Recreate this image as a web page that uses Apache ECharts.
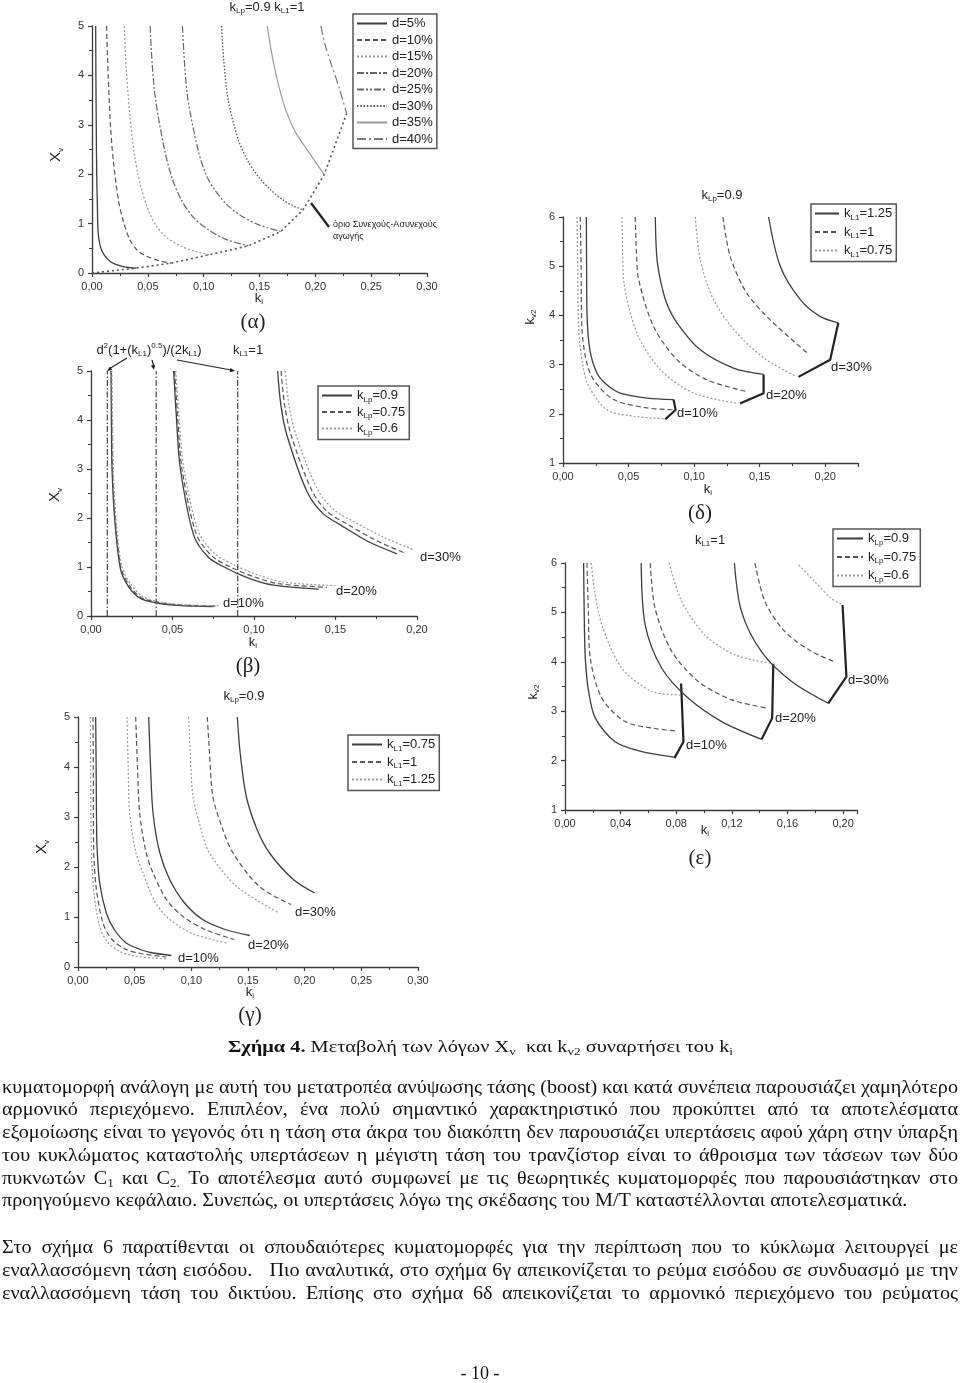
<!DOCTYPE html>
<html><head><meta charset="utf-8">
<script src="https://cdn.jsdelivr.net/npm/echarts@6/dist/echarts.min.js"></script>
<style>
html,body{margin:0;padding:0;background:#fff;}
body{width:960px;height:1383px;overflow:hidden;position:relative;}
#chart{position:absolute;left:0;top:0;width:960px;height:1383px;}
.ln{position:absolute;white-space:pre;font-family:'Liberation Serif','Times New Roman',serif;font-size:19px;line-height:22px;color:#111;transform-origin:0 50%;}
.ln sub{font-size:0.65em;vertical-align:-0.25em;line-height:0;}
</style></head>
<body><div id="chart"></div><div id="text"></div>
<script>
// ---------------- DATA ----------------
// (α) k_Lp=0.9, k_L1=1 : X_v vs k_i
const a_names = ['d=5%','d=10%','d=15%','d=20%','d=25%','d=30%','d=35%','d=40%'];
const a_d5  = [[0.0033,5],[0.0035,4],[0.0038,3],[0.0042,2],[0.0048,1.4],[0.0056,0.8],[0.0085,0.47],[0.016,0.24],[0.028,0.13],[0.040,0.1]];
const a_d10 = [[0.013,5],[0.0145,4],[0.0165,3],[0.019,2.3],[0.0236,1.48],[0.028,1.05],[0.034,0.67],[0.041,0.45],[0.049,0.34],[0.06,0.25],[0.071,0.2]];
const a_d15 = [[0.029,5],[0.0305,4.2],[0.034,3.17],[0.038,2.4],[0.043,1.82],[0.05,1.3],[0.058,0.94],[0.068,0.7],[0.080,0.54],[0.092,0.44],[0.105,0.37]];
const a_d20 = [[0.052,5],[0.054,4.2],[0.057,3.5],[0.065,2.49],[0.072,1.9],[0.080,1.48],[0.091,1.12],[0.104,0.88],[0.12,0.68],[0.140,0.55]];
const a_d25 = [[0.081,5],[0.083,4.2],[0.086,3.5],[0.095,2.49],[0.102,2.0],[0.110,1.68],[0.121,1.38],[0.134,1.15],[0.150,0.97],[0.169,0.84]];
const a_d30 = [[0.116,5],[0.118,4.3],[0.122,3.5],[0.131,2.7],[0.14,2.25],[0.149,1.95],[0.160,1.68],[0.171,1.48],[0.180,1.36],[0.189,1.28]];
const a_d35 = [[0.157,5],[0.1605,4.5],[0.1645,4.05],[0.170,3.55],[0.176,3.15],[0.183,2.82],[0.191,2.55],[0.200,2.25],[0.208,1.99]];
const a_d40 = [[0.205,5],[0.209,4.6],[0.213,4.31],[0.218,3.98],[0.222,3.7],[0.228,3.23]];
const a_boundary = [[0,0],[0.040,0.1],[0.071,0.2],[0.105,0.37],[0.140,0.55],[0.169,0.84],[0.189,1.28],[0.208,1.99],[0.228,3.23]];

// (δ) k_Lp=0.9 : k_v2 vs k_i, k_L1 = 1.25 / 1 / 0.75
const dl_names = ['1.25','1','0.75'];
const d_d10_s = [[0.0178,6],[0.018,5],[0.0183,4.05],[0.0205,3.3],[0.0259,2.83],[0.033,2.6],[0.0437,2.42],[0.064,2.32],[0.0843,2.29]];
const d_d10_d = [[0.0132,6],[0.0138,5],[0.0145,3.71],[0.018,3.05],[0.0234,2.69],[0.0386,2.29],[0.064,2.12],[0.0859,2.08]];
const d_d10_o = [[0.0107,6],[0.0112,5],[0.012,3.71],[0.015,3.0],[0.0196,2.56],[0.0335,2.08],[0.054,1.95],[0.078,1.9]];
const d_d10_b = [[0.0843,2.29],[0.0859,2.08],[0.078,1.89]];
const d_d20_s = [[0.0704,6],[0.0715,5.2],[0.0742,4.73],[0.079,4.25],[0.0869,3.85],[0.1047,3.30],[0.130,2.93],[0.153,2.80]];
const d_d20_d = [[0.0551,6],[0.056,5.3],[0.0577,4.73],[0.069,3.78],[0.0869,3.10],[0.1098,2.69],[0.139,2.46]];
const d_d20_o = [[0.045,6],[0.0455,5.3],[0.0462,4.73],[0.0564,3.64],[0.0742,2.90],[0.0996,2.42],[0.134,2.21]];
const d_d20_b = [[0.153,2.80],[0.153,2.42],[0.135,2.21]];
const d_d30_s = [[0.1568,6],[0.1657,5.0],[0.181,4.32],[0.196,3.98],[0.210,3.85]];
const d_d30_d = [[0.122,6],[0.1275,5.2],[0.140,4.46],[0.158,3.91],[0.187,3.22]];
const d_d30_o = [[0.1009,6],[0.1047,5.13],[0.1148,4.32],[0.1326,3.64],[0.155,3.10],[0.178,2.76]];
const d_d30_b = [[0.210,3.85],[0.2038,3.10],[0.1796,2.75]];

// (β) X_v vs k_i, k_Lp = 0.9 / 0.75 / 0.6
const bl_names = ['0.9','0.75','0.6'];
const b_d10_s = [[0.0123,5],[0.0125,4],[0.0129,3],[0.0145,2],[0.018,0.97],[0.023,0.6],[0.0303,0.36],[0.04,0.27],[0.0507,0.22],[0.064,0.2],[0.075,0.19]];
const b_d10_d = [[0.0125,5],[0.0128,4],[0.0132,3],[0.0148,2],[0.0185,0.97],[0.024,0.6],[0.031,0.37],[0.041,0.28],[0.052,0.23],[0.065,0.21],[0.077,0.2]];
const b_d10_o = [[0.0128,5],[0.0132,4],[0.0137,3],[0.0153,2],[0.019,1.0],[0.025,0.62],[0.032,0.39],[0.042,0.29],[0.053,0.24],[0.066,0.22],[0.079,0.21]];
const b_d20_s = [[0.0507,5],[0.0525,4],[0.0548,3.01],[0.063,1.65],[0.072,1.2],[0.0834,0.97],[0.097,0.77],[0.112,0.63],[0.1397,0.55]];
const b_d20_d = [[0.0513,5],[0.0533,4],[0.0558,3.01],[0.0645,1.68],[0.074,1.23],[0.0855,1.0],[0.1,0.8],[0.115,0.66],[0.1448,0.585]];
const b_d20_o = [[0.052,5],[0.0542,4],[0.057,3.01],[0.066,1.72],[0.076,1.27],[0.088,1.04],[0.103,0.83],[0.118,0.69],[0.150,0.62]];
const b_d30_s = [[0.1145,5],[0.1165,4.3],[0.1202,3.69],[0.1325,2.54],[0.142,2.1],[0.153,1.86],[0.17,1.52],[0.1877,1.27]];
const b_d30_d = [[0.1166,5],[0.1188,4.3],[0.1228,3.69],[0.1355,2.56],[0.145,2.13],[0.157,1.88],[0.175,1.54],[0.193,1.28]];
const b_d30_o = [[0.1192,5],[0.1215,4.3],[0.1258,3.69],[0.139,2.58],[0.149,2.17],[0.161,1.93],[0.18,1.6],[0.198,1.35]];
const b_vlines = [0.01, 0.04, 0.09];

// (ε) k_L1=1 : k_v2 vs k_i, k_Lp = 0.9 / 0.75 / 0.6
const el_names = ['0.9','0.75','0.6'];
const e_d10_s = [[0.0134,6],[0.0138,5],[0.0146,4.07],[0.017,3.4],[0.0218,2.86],[0.0361,2.38],[0.0553,2.18],[0.0787,2.07]];
const e_d10_d = [[0.0158,6],[0.0168,5],[0.0182,4.07],[0.0266,3.26],[0.0433,2.79],[0.0648,2.65],[0.0804,2.6]];
const e_d10_o = [[0.0189,6],[0.0215,5.4],[0.0266,4.74],[0.0409,3.87],[0.0625,3.40],[0.0828,3.33]];
const e_d10_b = [[0.0787,2.05],[0.0852,2.38],[0.0835,3.56]];
const e_d20_s = [[0.0548,6],[0.0577,4.74],[0.0696,3.87],[0.0888,3.26],[0.1127,2.79],[0.1414,2.43]];
const e_d20_d = [[0.0613,6],[0.0648,5.08],[0.0768,4.21],[0.096,3.60],[0.12,3.23],[0.146,3.06]];
const e_d20_o = [[0.0749,6],[0.084,5.22],[0.1007,4.54],[0.1223,4.14],[0.1474,3.97]];
const e_d20_b = [[0.1414,2.43],[0.149,2.86],[0.1498,3.96]];
const e_d30_s = [[0.1218,6],[0.127,5.01],[0.1414,4.20],[0.163,3.60],[0.1893,3.16]];
const e_d30_d = [[0.1366,6],[0.1438,5.22],[0.1582,4.61],[0.1773,4.21],[0.194,4.0]];
const e_d30_o = [[0.1682,5.96],[0.1797,5.62],[0.1917,5.28],[0.20,5.15]];
const e_d30_b = [[0.1893,3.16],[0.2024,3.70],[0.1996,5.15]];

// (γ) k_Lp=0.9 : X_v vs k_i, k_L1 = 0.75 / 1 / 1.25
const gl_names = ['0.75','1','1.25'];
const g_d10_s = [[0.0156,5],[0.016,4],[0.0163,3],[0.0168,2.41],[0.019,1.7],[0.025,1.08],[0.032,0.75],[0.0426,0.48],[0.055,0.35],[0.066,0.28],[0.0824,0.23]];
const g_d10_d = [[0.0132,5],[0.0135,4],[0.0138,2.41],[0.016,1.6],[0.022,0.88],[0.03,0.55],[0.0426,0.35],[0.055,0.27],[0.078,0.2]];
const g_d10_o = [[0.0109,5],[0.0112,4],[0.0118,2.41],[0.014,1.5],[0.0191,0.81],[0.026,0.5],[0.0368,0.31],[0.05,0.22],[0.066,0.18],[0.0794,0.16]];
const g_d20_s = [[0.0624,5],[0.064,4],[0.0662,3.08],[0.072,2.3],[0.0809,1.75],[0.094,1.28],[0.110,0.95],[0.13,0.75],[0.1515,0.63]];
const g_d20_d = [[0.0509,5],[0.0525,4],[0.0544,3.08],[0.06,2.3],[0.0662,1.88],[0.078,1.35],[0.0926,1.01],[0.113,0.74],[0.138,0.55]];
const g_d20_o = [[0.0432,5],[0.0443,4],[0.0456,3.08],[0.051,2.3],[0.0574,1.88],[0.068,1.3],[0.0809,0.95],[0.102,0.66],[0.131,0.48]];
const g_d30_s = [[0.1406,5],[0.143,4.3],[0.1485,3.41],[0.158,2.75],[0.169,2.28],[0.190,1.75],[0.2088,1.48]];
const g_d30_d = [[0.1141,5],[0.116,4.3],[0.119,3.41],[0.127,2.8],[0.1368,2.28],[0.160,1.61],[0.188,1.25]];
const g_d30_o = [[0.0976,5],[0.099,4.3],[0.1015,3.41],[0.108,2.8],[0.116,2.28],[0.140,1.61],[0.1774,1.08]];

// Axis tick settings
const xMax = [0.30, 0.225, 0.20, 0.21, 0.30];
const xInt = [0.05, 0.05, 0.05, 0.04, 0.05];
const yMin = [0, 1, 0, 1, 0];
const yMax = [5, 6, 5, 6, 5];

// Body text
const textLines = [
 '<b>Σχήμα 4.</b> Μεταβολή των λόγων X<sub>v</sub>  και k<sub>v2</sub> συναρτήσει του k<sub>i</sub>',
 'κυματομορφή ανάλογη με αυτή του μετατροπέα ανύψωσης τάσης (boost) και κατά συνέπεια παρουσιάζει χαμηλότερο',
 'αρμονικό περιεχόμενο. Επιπλέον, ένα πολύ σημαντικό χαρακτηριστικό που προκύπτει από τα αποτελέσματα',
 'εξομοίωσης είναι το γεγονός ότι η τάση στα άκρα του διακόπτη δεν παρουσιάζει υπερτάσεις αφού χάρη στην ύπαρξη',
 'του κυκλώματος καταστολής υπερτάσεων η μέγιστη τάση του τρανζίστορ είναι το άθροισμα των τάσεων των δύο',
 'πυκνωτών C<sub>1</sub> και C<sub>2.</sub> Το αποτέλεσμα αυτό συμφωνεί με τις θεωρητικές κυματομορφές που παρουσιάστηκαν στο',
 'προηγούμενο κεφάλαιο. Συνεπώς, οι υπερτάσεις λόγω της σκέδασης του Μ/Τ καταστέλλονται αποτελεσματικά.',
 'Στο σχήμα 6 παρατίθενται οι σπουδαιότερες κυματομορφές για την περίπτωση που το κύκλωμα λειτουργεί με',
 'εναλλασσόμενη τάση εισόδου.   Πιο αναλυτικά, στο σχήμα 6γ απεικονίζεται το ρεύμα εισόδου σε συνδυασμό με την',
 'εναλλασσόμενη τάση του δικτύου. Επίσης στο σχήμα 6δ απεικονίζεται το αρμονικό περιεχόμενο του ρεύματος',
 '- 10 -'
];
</script>
<script>
const FONT = "'Liberation Sans', Arial, sans-serif";
const SERIF = "'Liberation Serif','Times New Roman',serif";

// text layout: 'fit' = scale to width, 'just' = justified full line, 'last' = paragraph end line, 'c' = centered
const textLayout = [
 {y:1047,x:228,w:505,fs:17,m:'fit'},
 {y:1087,x:2,w:956,m:'just'},{y:1109,x:2,w:956,m:'just'},{y:1132,x:2,w:956,m:'just'},{y:1155,x:2,w:956,m:'just'},
 {y:1178,x:2,w:956,m:'just'},{y:1200,x:2,m:'last'},
 {y:1247,x:2,w:956,m:'just'},{y:1270,x:2,w:956,m:'just'},{y:1293,x:2,w:956,m:'just'},
 {y:1373,cx:480,fs:18,m:'c'}
];
function layoutText(){
  const host = document.getElementById('text'); host.innerHTML='';
  const divs = textLines.map((html,i)=>{
    const L = textLayout[i];
    const d = document.createElement('div');
    d.className='ln'; d.innerHTML=html;
    d.style.fontSize=(L.fs||19)+'px';
    d.style.top=(L.y-11)+'px';
    d.style.left='0px';
    host.appendChild(d);
    return d;
  });
  const nat = divs.map(d=>d.getBoundingClientRect().width);
  let maxNat = 0;
  textLayout.forEach((L,i)=>{ if (L.m==='just') maxNat=Math.max(maxNat, nat[i]); });
  const s = 956 / maxNat;
  divs.forEach((d,i)=>{
    const L = textLayout[i];
    if (L.m==='fit'){ d.style.left=L.x+'px'; d.style.transform='scaleX('+(L.w/nat[i])+')'; }
    else if (L.m==='last'){ d.style.left=L.x+'px'; d.style.transform='scaleX('+s+')'; }
    else if (L.m==='just'){
      const spaces = (d.textContent.match(/ /g)||[]).length;
      const extra = (L.w/s - nat[i]) / Math.max(1,spaces);
      d.style.wordSpacing = extra+'px';
      const w2 = d.getBoundingClientRect().width;
      d.style.left=L.x+'px'; d.style.transform='scaleX('+(L.w/w2)+')';
    } else { d.style.left=(L.cx - nat[i]/2)+'px'; }
  });
}
layoutText();
if (document.fonts && document.fonts.ready) document.fonts.ready.then(layoutText);

// ---------------- CHART ----------------
const grids = [
  {left:92,  top:26,  width:335, height:247},
  {left:563, top:217, width:295, height:246},
  {left:91,  top:371, width:326, height:245},
  {left:565, top:563, width:292, height:247},
  {left:78,  top:717, width:340, height:250}
];
const AX = '#3a3a3a';
const xAxes = grids.map((g,i)=>({
  gridIndex:i, type:'value', min:0, max:xMax[i], interval:xInt[i],
  axisLine:{onZero:false, lineStyle:{color:AX,width:1.3}},
  axisTick:{show:true, inside:false, length:4, lineStyle:{color:AX,width:1.2}},
  minorTick:{show:true, splitNumber:2, length:3, lineStyle:{color:AX,width:1}},
  splitLine:{show:false},
  axisLabel:{formatter:v=>v.toFixed(2).replace('.',','), fontSize:11, color:'#333', fontFamily:FONT, margin:8, showMaxLabel:(i!==1 && i!==3)}
}));
const yAxes = grids.map((g,i)=>({
  gridIndex:i, type:'value', min:yMin[i], max:yMax[i], interval:1,
  axisLine:{onZero:false, lineStyle:{color:AX,width:1.3}},
  axisTick:{show:true, inside:false, length:4, lineStyle:{color:AX,width:1.2}},
  minorTick:{show:true, splitNumber:2, length:3, lineStyle:{color:AX,width:1}},
  splitLine:{show:false},
  axisLabel:{fontSize:11, color:'#333', fontFamily:FONT, margin:8}
}));

const ST = {
  solid:{color:'#3d3d3d', type:'solid', width:1.3},
  solidLight:{color:'#9a9a9a', type:'solid', width:1.2},
  dash:{color:'#555', type:[5,3], width:1.2},
  dot:{color:'#999', type:[2,2], width:1.2},
  dashdot:{color:'#666', type:[7,2,2,2], width:1.2},
  dashdotdot:{color:'#666', type:[7,2,2,2,2,2], width:1.2},
  shortdot:{color:'#555', type:[1.5,1.8], width:1.3},
  dashdotLong:{color:'#777', type:[9,3,2,3], width:1.2},
  boundary:{color:'#555', type:[2,3], width:1.6},
  thick:{color:'#222', type:'solid', width:2.2},
  vline:{color:'#444', type:[6,2,1.5,2], width:1.2}
};
function S(name, data, gi, st, extra){
  return Object.assign({type:'line', name:name, data:data, xAxisIndex:gi, yAxisIndex:gi,
    symbol:'none', showSymbol:false, smooth:0.3, lineStyle:st,
    itemStyle:{color:st.color}, silent:true, animation:false, clip:false}, extra||{});
}
const series = [];
// α
const aData = [a_d5,a_d10,a_d15,a_d20,a_d25,a_d30,a_d35,a_d40];
const aStyles = [ST.solid,ST.dash,ST.dot,ST.dashdot,ST.dashdotdot,ST.shortdot,ST.solidLight,ST.dashdotLong];
aData.forEach((d,i)=>series.push(S('a:'+a_names[i], d, 0, aStyles[i])));
series.push(S('a:boundary', a_boundary, 0, ST.boundary, {smooth:false}));
// δ
const dSt = [ST.solid, ST.dash, ST.dot];
[[d_d10_s,d_d10_d,d_d10_o,d_d10_b],[d_d20_s,d_d20_d,d_d20_o,d_d20_b],[d_d30_s,d_d30_d,d_d30_o,d_d30_b]].forEach(grp=>{
  grp.slice(0,3).forEach((d,k)=>series.push(S('dl:'+dl_names[k], d, 1, dSt[k])));
  series.push(S('d:bnd', grp[3], 1, ST.thick, {smooth:false}));
});
// β
[[b_d10_s,b_d10_d,b_d10_o],[b_d20_s,b_d20_d,b_d20_o],[b_d30_s,b_d30_d,b_d30_o]].forEach(grp=>{
  grp.forEach((d,k)=>series.push(S('bl:'+bl_names[k], d, 2, dSt[k])));
});
b_vlines.forEach(x=>series.push(S('b:vline', [[x,yMin[2]],[x,yMax[2]]], 2, ST.vline, {smooth:false})));
// ε
[[e_d10_s,e_d10_d,e_d10_o,e_d10_b],[e_d20_s,e_d20_d,e_d20_o,e_d20_b],[e_d30_s,e_d30_d,e_d30_o,e_d30_b]].forEach(grp=>{
  grp.slice(0,3).forEach((d,k)=>series.push(S('el:'+el_names[k], d, 3, dSt[k])));
  series.push(S('e:bnd', grp[3], 3, ST.thick, {smooth:false}));
});
// γ
[[g_d10_s,g_d10_d,g_d10_o],[g_d20_s,g_d20_d,g_d20_o],[g_d30_s,g_d30_d,g_d30_o]].forEach(grp=>{
  grp.forEach((d,k)=>series.push(S('gl:'+gl_names[k], d, 4, dSt[k])));
});

// legends
const LR = {n:{fontSize:13, color:'#222', fontFamily:FONT, lineHeight:16}, s:{fontSize:8, color:'#222', fontFamily:FONT, lineHeight:7, verticalAlign:'bottom'}};
function legFmt(name){
  const [p,v] = name.split(':');
  if (p==='a') return '{n|'+v+'}';
  const sub = (p==='dl'||p==='gl') ? 'L1' : 'Lp';
  return '{n|k}{s|'+sub+'}{n|='+v+'}';
}
function L(names, left, top, extra){
  return Object.assign({data:names, left:left, top:top, orient:'vertical', selectedMode:false,
    borderColor:'#555', borderWidth:1.5, borderRadius:0, padding:[3,4,3,3],
    itemWidth:30, itemHeight:10, itemGap:4, formatter:legFmt,
    itemStyle:{color:'rgba(0,0,0,0)', borderColor:'rgba(0,0,0,0)', borderWidth:0},
    textStyle:{fontSize:13, color:'#222', fontFamily:FONT, rich:LR}}, extra||{});
}
const legends = [
  L(a_names.map(n=>'a:'+n), 353, 14, {itemGap:3.5, itemHeight:12}),
  L(dl_names.map(n=>'dl:'+n), 811, 204, {itemWidth:24, itemGap:4, itemHeight:13}),
  L(bl_names.map(n=>'bl:'+n), 318, 386, {itemWidth:30, itemGap:2, itemHeight:12}),
  L(el_names.map(n=>'el:'+n), 833, 529, {itemWidth:26, itemGap:4, itemHeight:13}),
  L(gl_names.map(n=>'gl:'+n), 348, 735, {itemWidth:30, itemGap:3, itemHeight:13})
];

// graphic texts
const GR = {
  n:{fontSize:13, fontFamily:FONT, fill:'#222', lineHeight:16},
  s:{fontSize:8, fontFamily:FONT, fill:'#222', lineHeight:7, verticalAlign:'bottom'},
  p:{fontSize:8, fontFamily:FONT, fill:'#222', lineHeight:7, verticalAlign:'top'},
  X:{fontSize:15, fontFamily:FONT, fill:'#222', lineHeight:18},
  xs:{fontSize:8, fontFamily:FONT, fill:'#222', lineHeight:8, verticalAlign:'bottom'}
};
function T(x,y,text,o){
  o=o||{};
  return {type:'text', x:x, y:y, rotation:o.rot||0, silent:true, z:10,
    style:Object.assign({text:text, rich:GR, align:o.align||'center', verticalAlign:'middle',
      font:(o.font||"13px "+FONT), fill:'#222'}, o.style||{})};
}
function cap(x,y,t){ return T(x,y,t,{font:"21px "+SERIF}); }
function line(x1,y1,x2,y2,w){ return {type:'line', silent:true, z:10, shape:{x1:x1,y1:y1,x2:x2,y2:y2}, style:{stroke:'#222', lineWidth:w||1.2}}; }
function head(x1,y1,x2,y2){
  const a=Math.atan2(y2-y1,x2-x1), L=5, W=2.2;
  const bx=x2-L*Math.cos(a), by=y2-L*Math.sin(a);
  return {type:'polygon', silent:true, z:10, shape:{points:[[x2,y2],[bx+W*Math.sin(a),by-W*Math.cos(a)],[bx-W*Math.sin(a),by+W*Math.cos(a)]]}, style:{fill:'#222'}};
}
const PI2 = Math.PI/2;
const graphic = [
  // α
  T(267,7,'{n|k}{s|Lp}{n|=0.9 k}{s|L1}{n|=1}'),
  T(56,155,'{X|X}{xs|v}',{rot:PI2}),
  T(259,298,'{n|k}{s|i}'),
  cap(253,322,'(α)'),
  line(311,203,329,227,2.2),
  T(333,225,'όριο Συνεχούς-Ασυνεχούς',{align:'left',font:"9px "+FONT}),
  T(333,237,'αγωγής',{align:'left',font:"9px "+FONT}),
  // δ
  T(722,195,'{n|k}{s|Lp}{n|=0.9}'),
  T(530,317,'{n|k}{s|v2}',{rot:PI2}),
  T(708,489,'{n|k}{s|i}'),
  cap(700,513,'(δ)'),
  T(677,413,'d=10%',{align:'left'}),
  T(766,395,'d=20%',{align:'left'}),
  T(831,367,'d=30%',{align:'left'}),
  // β
  T(149,350,'{n|d}{p|2}{n|(1+(k}{s|L1}{n|)}{p|0.5}{n|)/(2k}{s|L1}{n|)}'),
  T(248,350,'{n|k}{s|L1}{n|=1}'),
  line(127,358,109,369), head(127,358,107,371),
  line(152,360,154,367), head(152,360,154,370),
  line(177,360,231,370), head(177,360,235,371),
  T(55,495,'{X|X}{xs|v}',{rot:PI2}),
  T(253,642,'{n|k}{s|i}'),
  cap(248,666,'(β)'),
  T(223,603,'d=10%',{align:'left'}),
  T(336,591,'d=20%',{align:'left'}),
  T(420,557,'d=30%',{align:'left'}),
  // ε
  T(710,540,'{n|k}{s|L1}{n|=1}'),
  T(533,692,'{n|k}{s|v2}',{rot:PI2}),
  T(705,830,'{n|k}{s|i}'),
  cap(700,858,'(ε)'),
  T(686,745,'d=10%',{align:'left'}),
  T(775,718,'d=20%',{align:'left'}),
  T(848,680,'d=30%',{align:'left'}),
  // γ
  T(244,696,'{n|k}{s|Lp}{n|=0.9}'),
  T(42,847,'{X|X}{xs|v}',{rot:PI2}),
  T(250,992,'{n|k}{s|i}'),
  cap(250,1015,'(γ)'),
  T(178,958,'d=10%',{align:'left'}),
  T(248,945,'d=20%',{align:'left'}),
  T(295,912,'d=30%',{align:'left'})
];

const chart = echarts.init(document.getElementById('chart'), null, {renderer:'canvas'});
chart.setOption({
  animation:false,
  backgroundColor:'transparent',
  grid: grids.map(g=>Object.assign({containLabel:false}, g)),
  xAxis: xAxes,
  yAxis: yAxes,
  legend: legends,
  series: series,
  graphic: graphic
});
</script>
</body></html>
